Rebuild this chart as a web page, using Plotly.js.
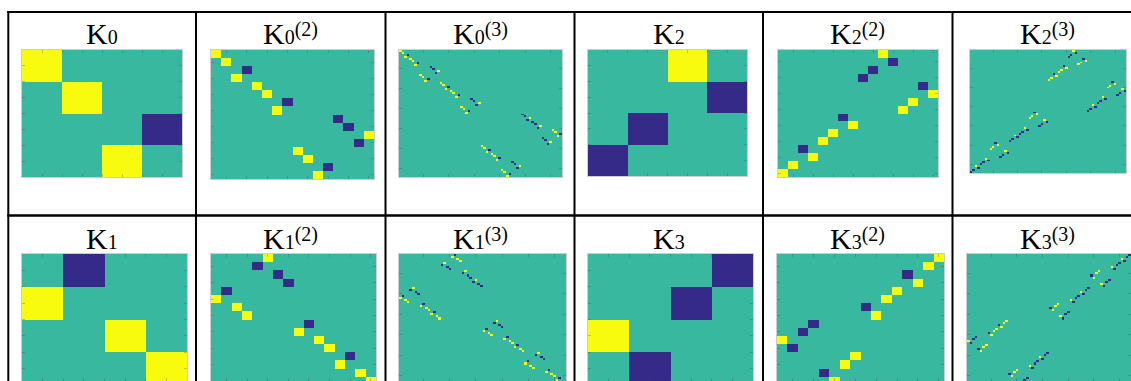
<!DOCTYPE html>
<html><head><meta charset="utf-8">
<script src="https://cdn.plot.ly/plotly-3.0.1.min.js"></script>
<style>html,body{margin:0;padding:0;background:#fff;overflow:hidden}#chart{width:1131px;height:381px}</style>
</head><body><div id="chart"></div>
<script>
// Signed permutation matrices: entry v in row r means column |v| (1-based) holds sign(v)
const K0 = [1,2,-4,3];
const K1 = [-2,1,3,4];
const K2 = [3,-4,-2,-1];
const K3 = [-4,-3,1,-2];

const K0_2 = [1,2,-4,3, 5,6,-8,7, -13,-14,16,-15, 9,10,-12,11];
const K1_2 = [6,-5,-7,-8, -2,1,3,4, -10,9,11,12, -14,13,15,16];
const K2_2 = [11,-12,-10,-9, -15,16,14,13, -7,8,6,5, -3,4,2,1];
const K3_2 = [16,15,-13,14, 12,11,-9,10, -4,-3,1,-2, 8,7,-5,6];

const K0_3 = [1,2,-4,3, 5,6,-8,7, -13,-14,16,-15, 9,10,-12,11,
  17,18,-20,19, 21,22,-24,23, -29,-30,32,-31, 25,26,-28,27,
  -49,-50,52,-51, -53,-54,56,-55, 61,62,-64,63, -57,-58,60,-59,
  33,34,-36,35, 37,38,-40,39, -45,-46,48,-47, 41,42,-44,43];
const K1_3 = [-22,21,23,24, 18,-17,-19,-20, 26,-25,-27,-28, 30,-29,-31,-32,
  6,-5,-7,-8, -2,1,3,4, -10,9,11,12, -14,13,15,16,
  38,-37,-39,-40, -34,33,35,36, -42,41,43,44, -46,45,47,48,
  54,-53,-55,-56, -50,49,51,52, -58,57,59,60, -62,61,63,64];
const K2_3 = [43,-44,-42,-41, -47,48,46,45, -39,40,38,37, -35,36,34,33,
  -59,60,58,57, 63,-64,-62,-61, 55,-56,-54,-53, 51,-52,-50,-49,
  -27,28,26,25, 31,-32,-30,-29, 23,-24,-22,-21, 19,-20,-18,-17,
  -11,12,10,9, 15,-16,-14,-13, 7,-8,-6,-5, 3,-4,-2,-1];
const K3_3 = [-64,-63,61,-62, -60,-59,57,-58, 52,51,-49,50, -56,-55,53,-54,
  -48,-47,45,-46, -44,-43,41,-42, 36,35,-33,34, -40,-39,37,-38,
  16,15,-13,14, 12,11,-9,10, -4,-3,1,-2, 8,7,-5,6,
  -32,-31,29,-30, -28,-27,25,-26, 20,19,-17,18, -24,-23,21,-22];

const titleSub = ['0','0','0','2','2','2','1','1','1','3','3','3'];
const titleSup = ['','(2)','(3)','','(2)','(3)','','(2)','(3)','','(2)','(3)'];
const mats = [K0, K0_2, K0_3, K2, K2_2, K2_3, K1, K1_2, K1_3, K3, K3_2, K3_3];

// ---- geometry (pixels) ----
const W = 1131, H = 381;
const boxes = [
  [22,182,50,177],[211,374,50,179],[399,562,50,177],[588,747,50,176],[778,938,50,177],[970,1126,50,173],
  [22,187,254,385],[211,376,254,385],[399,566,254,385],[588,753,254,385],[777,944,254,385],[967,1131,254,385]
];
const titleX = [102.2,290.8,480,668.8,857.8,1047.5];
const baseY = [43.3, 248.3];   // baseline of "K"
const FS = 30, FS2 = 20;
const px = x => x / W, py = y => 1 - y / H;

const colorscale = [[0,'rgb(53,42,135)'],[0.5,'rgb(56,185,159)'],[1,'rgb(249,251,14)']];

function toMatrix(v){
  const n = v.length, z = [];
  for (let r = 0; r < n; r++){
    const row = new Array(n).fill(0);
    row[Math.abs(v[r]) - 1] = Math.sign(v[r]);
    z.push(row);
  }
  return z;
}
function tickSpec(n){
  if (n === 4) return {tick0:-0.5, dtick:0.5};
  if (n === 16) return {tick0:1, dtick:2};
  return {tick0:9, dtick:10};
}

const data = [], layout = {
  width: W, height: H, margin:{l:0,r:0,t:0,b:0}, paper_bgcolor:'#fff', plot_bgcolor:'#fff',
  showlegend:false, annotations:[], shapes:[]
};
const font = s => ({family:'Liberation Serif, serif', size:s, color:'#000'});

mats.forEach((m, i) => {
  const k = i + 1, sfx = k === 1 ? '' : String(k);
  const n = m.length, b = boxes[i];
  data.push({type:'heatmap', z: toMatrix(m), xaxis:'x'+sfx, yaxis:'y'+sfx,
    colorscale, zmin:-1, zmax:1, showscale:false, hoverinfo:'skip', zsmooth:false});
  const yTop = b[2], yBot = Math.min(b[3], H);
  const frac = (yBot - yTop) / (b[3] - b[2]);
  const ts = tickSpec(n);
  const common = {showgrid:false, zeroline:false, showticklabels:false, ticks:'inside', ticklen:3,
    tickcolor:'rgba(70,70,70,0.3)', tickwidth:1, showline:true, linecolor:'rgba(90,90,90,0.3)',
    linewidth:1, mirror:'ticks', tickmode:'linear', tick0:ts.tick0, dtick:ts.dtick, fixedrange:true};
  layout['xaxis'+sfx] = Object.assign({}, common, {domain:[px(b[0]), px(Math.min(b[1], W))],
    range:[-0.5, n-0.5], anchor:'y'+sfx});
  layout['yaxis'+sfx] = Object.assign({}, common, {domain:[py(yBot), py(yTop)],
    range:[-0.5 + n*frac, -0.5], anchor:'x'+sfx});

  // title: "K" + small index digit on the baseline + raised "(n)" — one text
  const row = Math.floor(i/6), cx = titleX[i % 6];
  let txt = 'K<span style="font-size:' + FS2 + 'px">' + titleSub[i];
  if (titleSup[i]) txt += '<sup><span style="font-size:' + FS2 + 'px">' + titleSup[i] + '</span></sup>';
  txt += '</span>';
  layout.annotations.push({text: txt, xref:'paper', yref:'paper',
    x: px(cx), y: py(baseY[row] - 0.3375*FS), xanchor:'center', yanchor:'middle',
    showarrow:false, font:font(FS)});
});

// table borders
const line = (x0,y0,x1,y1,w) => ({type:'line', xref:'paper', yref:'paper', x0:px(x0), y0:py(y0), x1:px(x1), y1:py(y1), line:{color:'#000', width:w}});
layout.shapes.push(line(7.3,12,W,12,2));
layout.shapes.push(line(7.3,215.5,W,215.5,2.5));
[8.3,196,385.5,574.5,763,952.5].forEach(x => layout.shapes.push(line(x,11,x,H,2)));

Plotly.newPlot('chart', data, layout, {staticPlot:true, displayModeBar:false});
</script></body></html>
